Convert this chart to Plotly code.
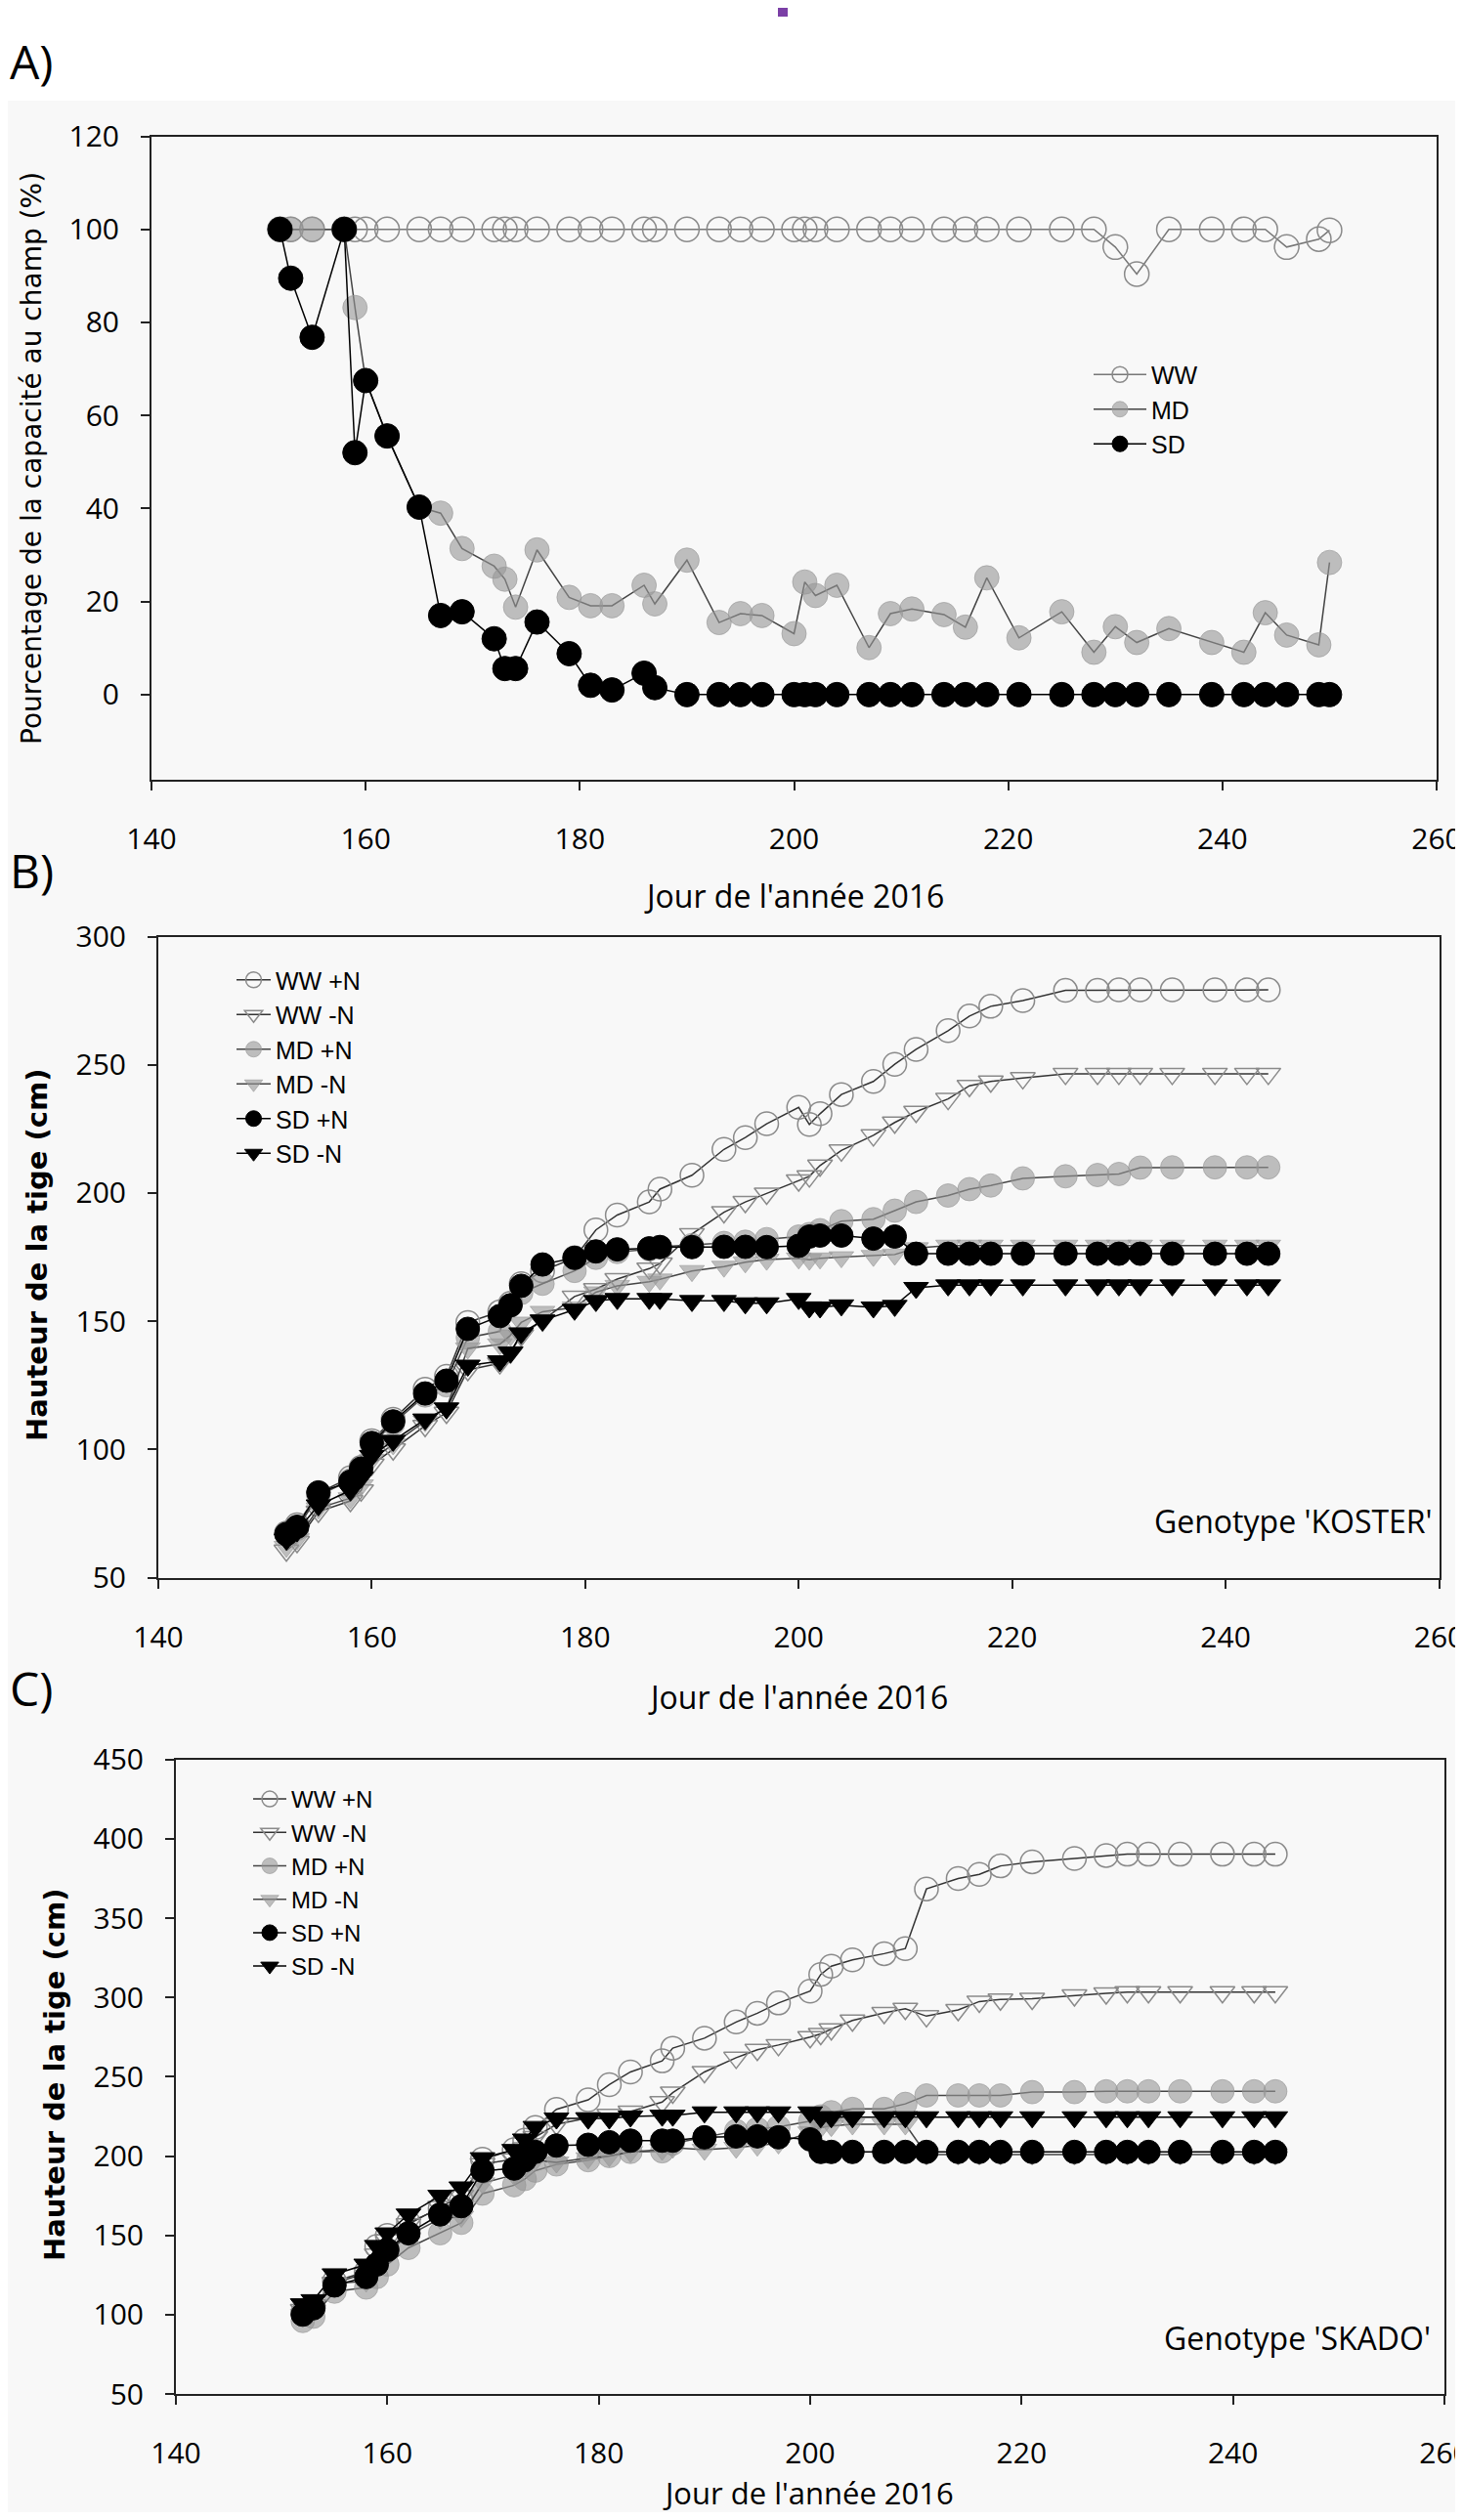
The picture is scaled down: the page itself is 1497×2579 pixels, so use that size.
import plotly.graph_objects as go

# ---------------- data ----------------
days_A = [152, 153, 155, 158, 159, 160, 162, 165, 167, 169, 172, 173, 174, 176, 179, 181, 183, 186, 187,
          190, 193, 195, 197, 200, 201, 202, 204, 207, 209, 211, 214, 216, 218, 221, 225, 228, 230, 232,
          235, 239, 242, 244, 246, 249, 250]

ww_A = [100, 100, 100, 100, 100, 100, 100, 100, 100, 100, 100, 100, 100, 100, 100, 100, 100, 100, 100,
        100, 100, 100, 100, 100, 100, 100, 100, 100, 100, 100, 100, 100, 100, 100, 100, 100, 96.2, 90.4,
        100, 100, 100, 100, 96.2, 97.9, 99.8]
md_A = [100, 100, 100, 100, 83.2, 67.5, 55.6, 40.3, 39.0, 31.4, 27.6, 24.8, 18.8, 31.1, 20.9, 19.1, 19.1,
        23.5, 19.5, 28.9, 15.5, 17.4, 17.0, 13.1, 24.2, 21.3, 23.5, 10.1, 17.4, 18.4, 17.2, 14.5, 25.1,
        12.2, 17.8, 9.1, 14.6, 11.2, 14.2, 11.2, 9.1, 17.6, 12.8, 10.7, 28.4]
sd_A = [100, 89.5, 76.8, 100, 52.0, 67.5, 55.6, 40.3, 17.0, 17.8, 12.0, 5.6, 5.6, 15.6, 8.8, 2.0, 1.0,
        4.6, 1.5, 0, 0, 0, 0, 0, 0, 0, 0, 0, 0, 0, 0, 0, 0, 0, 0, 0, 0, 0, 0, 0, 0, 0, 0, 0, 0]

days_BC = [152, 153, 155, 158, 159, 160, 162, 165, 167, 169, 172, 173, 174, 176, 179, 181, 183, 186, 187,
           190, 193, 195, 197, 200, 201, 202, 204, 207, 209, 211, 214, 216, 218, 221, 225, 228, 230, 232,
           235, 239, 242, 244]

# Panel B - KOSTER
wwp_B = [67.3, 70.6, 83, 89, 93, 103.4, 111.7, 123.5, 128.5, 149.5, 153.7, 157, 164.6, 169.6, 174.7, 185.6,
         191.4, 196.5, 201.5, 206.9, 217, 221.6, 227, 233.4, 226.7, 230.9, 238.4, 243.5, 250.2, 256, 263.3,
         269, 272.8, 275, 279, 279, 279.2, 279.2, 279.2, 279.2, 279.2, 279.2]
wwm_B = [60.6, 63.9, 75.7, 79.9, 84, 94.1, 100, 109.2, 114.3, 131, 133.6, 137.8, 144.5, 150.3, 159.6, 162.5,
         166.4, 170.5, 172.5, 184, 192.5, 196.5, 199.8, 204.9, 206.5, 210.7, 216.6, 222.5, 227.5, 231.7,
         236.7, 241.8, 243.5, 244.8, 246.5, 246.5, 246.5, 246.5, 246.5, 246.5, 246.5, 246.5]
mdp_B = [67, 69, 82, 88, 92, 102, 110, 121, 125, 143.6, 146, 156, 161, 164.6, 169.6, 174.7, 177, 178, 179,
         179.7, 180.5, 181, 182, 183, 184, 185.5, 189, 189.8, 193.1, 196.5, 199, 201.5, 202.9, 205.7, 206.5,
         207, 207.4, 209.9, 210, 210, 210, 210]
mdm_B = [62, 65, 77, 81, 86, 96, 102, 111, 116, 139.4, 141, 144.5, 149.5, 153.7, 155.4, 161.3, 163.8, 165.4,
         166.3, 169.6, 171.3, 173, 174, 174.5, 174, 174.5, 175, 175.5, 176, 178.5, 179.5, 179.5, 179.5,
         179.5, 179.5, 179.5, 179.5, 179.5, 179.5, 179.5, 179.5, 179.5]
sdp_B = [67, 69.8, 83.2, 87.4, 92.5, 102.5, 110.9, 121.8, 126.8, 147, 152, 156.2, 163.8, 172.1, 174.7, 177.2,
         178, 178.4, 178.9, 178.9, 179, 179, 178.9, 179.4, 183, 183.4, 183.4, 182.2, 183, 176.3, 176.3,
         176.3, 176.3, 176.3, 176.3, 176.3, 176.3, 176.3, 176.3, 176.3, 176.3, 176.3]
sdm_B = [64.8, 68.1, 78.2, 84, 89, 97.5, 103.4, 111.7, 116, 132.7, 134.4, 137.8, 145.3, 150.3, 154.5, 157.9,
         158.7, 158.7, 158.7, 157.9, 157.9, 157, 157, 158.7, 155.4, 155.4, 156.2, 155.4, 156, 163, 164, 164,
         164, 164, 164, 164, 164, 164, 164, 164, 164, 164]

# Panel C - SKADO
wwp_C = [101, 105, 121, 127, 143, 150, 158, 167, 172, 198, 204, 210, 218, 229.4, 235.4, 245, 253, 260, 268,
         274.3, 284.5, 290, 296.5, 304, 314.5, 319.7, 323.7, 327.6, 330.8, 368.4, 375, 377.6, 382.9, 385.5,
         387.6, 389.5, 390.3, 390.3, 390.3, 390.3, 390.3, 390.3]
wwm_C = [103, 106, 120, 126, 138, 147, 157, 168, 175, 195, 198, 205, 212, 220, 224, 226, 228, 234, 240, 253,
         262, 267, 270, 275, 277, 280, 285.5, 290.3, 292.9, 288.2, 292.1, 297.4, 298.7, 299.2, 301.3, 302.6,
         303.4, 303.4, 303.4, 303.4, 303.4, 303.4]
mdp_C = [96, 98.7, 114.5, 117.1, 123.7, 131.6, 142.1, 151.3, 157.9, 176.3, 181.6, 185.5, 190.8, 194.7, 197.4,
         200, 202.6, 203, 207.9, 211.8, 215.8, 217.1, 218.4, 222, 225, 227.6, 229.7, 229.7, 232.9, 238.2,
         238.2, 238.2, 238.2, 240.3, 240.3, 240.8, 240.8, 240.8, 240.8, 240.8, 240.8, 240.8]
mdm_C = [100, 102.6, 119.7, 121, 131.6, 139.5, 150, 160.5, 161.8, 182.9, 188.2, 193.4, 197.4, 196, 198.7, 200,
         202.6, 204, 205.3, 204, 205.3, 206.6, 208, 215, 218, 219, 220, 220, 220, 201, 201, 201, 201, 201,
         201, 201, 201, 201, 201, 201, 201, 201]
sdp_C = [100, 104, 118.4, 123.7, 131.6, 140.8, 151.3, 163.2, 168.4, 190.8, 192.1, 197.4, 202.6, 206.6, 207.1,
         208.7, 209.7, 209.7, 209.7, 211.8, 212.4, 212.4, 211.8, 210.5, 202.6, 202.6, 202.6, 202.6, 202.6,
         202.6, 202.6, 202.6, 202.6, 202.6, 202.6, 202.6, 202.6, 202.6, 202.6, 202.6, 202.6, 202.6]
sdm_C = [106.6, 109.2, 125.5, 131.6, 143.4, 151.3, 163.2, 175, 180.3, 198.7, 203.9, 210.5, 218.4, 223.7, 223.7,
         223.7, 225, 225.5, 225.5, 227.6, 227.6, 227.6, 227.6, 227.6, 224.5, 224.5, 224.5, 224.5, 224.5,
         224.5, 224.5, 224.5, 224.5, 224.5, 224.5, 224.5, 224.5, 224.5, 224.5, 224.5, 224.5, 224.5]

names_A = ["WW", "MD", "SD"]
names_BC = ["WW +N", "WW -N", "MD +N", "MD -N", "SD +N", "SD -N"]
x_ticks = [140, 160, 180, 200, 220, 240, 260]
yA_ticks = [0, 20, 40, 60, 80, 100, 120]
yB_ticks = [50, 100, 150, 200, 250, 300]
yC_ticks = [50, 100, 150, 200, 250, 300, 350, 400, 450]

x_title = "Jour de l'année 2016"
yA_title = "Pourcentage de la capacité au champ (%)"
yBC_title = "<b>Hauteur de la tige (cm)</b>"

# ---------------- geometry helpers (page pixels -> paper; page body has an 8px margin) ----------------
W, H = 1481, 2563
OFF = 8


def px(X):
    return (X - OFF) / W


def py(Y):
    return 1 - (Y - OFF) / H


GREY_FILL = "rgba(150,150,150,0.6)"
OPEN_C = "#8a8a8a"

fig = go.Figure()


def add(x, y, name, symbol, color, lcolor, size, xa, ya, leg, mlw=1.5):
    fig.add_trace(go.Scatter(
        x=x, y=y, name=name, mode="lines+markers",
        line=dict(color=lcolor, width=1.5),
        marker=dict(symbol=symbol, size=size, color=color, line=dict(width=mlw, color=color)),
        xaxis=xa, yaxis=ya, legend=leg, cliponaxis=False))


# Panel A
add(days_A, ww_A, names_A[0], "circle-open", OPEN_C, "#777777", 25, "x", "y", "legend")
add(days_A, md_A, names_A[1], "circle", GREY_FILL, "#444444", 25, "x", "y", "legend", 1)
add(days_A, sd_A, names_A[2], "circle", "black", "black", 25, "x", "y", "legend", 1)

# Panel B and C
for xa, ya, leg, series in [
    ("x2", "y2", "legend2", [wwp_B, wwm_B, mdp_B, mdm_B, sdp_B, sdm_B]),
    ("x3", "y3", "legend3", [wwp_C, wwm_C, mdp_C, mdm_C, sdp_C, sdm_C]),
]:
    add(days_BC, series[0], names_BC[0], "circle-open", OPEN_C, "#333333", 24, xa, ya, leg)
    add(days_BC, series[1], names_BC[1], "triangle-down-open", OPEN_C, "#333333", 22, xa, ya, leg)
    add(days_BC, series[2], names_BC[2], "circle", GREY_FILL, "#444444", 24, xa, ya, leg, 1)
    add(days_BC, series[3], names_BC[3], "triangle-down", GREY_FILL, "#444444", 22, xa, ya, leg, 1)
    add(days_BC, series[4], names_BC[4], "circle", "black", "black", 24, xa, ya, leg, 1)
    add(days_BC, series[5], names_BC[5], "triangle-down", "black", "black", 22, xa, ya, leg, 1)

axis_common = dict(showline=True, linecolor="#222222", linewidth=2, mirror=True, ticks="outside",
                   ticklen=9, tickwidth=2, tickcolor="#222222", showgrid=False, zeroline=False,
                   ticklabeloverflow="allow", automargin=False,
                   tickfont=dict(family="Open Sans", size=30, color="black"))

fig.update_layout(
    xaxis=dict(axis_common, range=[140, 260], tickvals=x_ticks, domain=[px(155), px(1470)], anchor="y",
               ticklabelstandoff=24),
    yaxis=dict(axis_common, range=[-18.3, 120], tickvals=yA_ticks, domain=[py(798), py(139.5)], anchor="x",
               ticklabelstandoff=16),
    xaxis2=dict(axis_common, range=[140, 260], tickvals=x_ticks, domain=[px(162), px(1472.5)], anchor="y2",
                ticklabelstandoff=24),
    yaxis2=dict(axis_common, range=[50, 300], tickvals=yB_ticks, domain=[py(1614.5), py(958.5)], anchor="x2",
                ticklabelstandoff=16),
    xaxis3=dict(axis_common, range=[140, 260], tickvals=x_ticks, domain=[px(180), px(1478)], anchor="y3",
                ticklabelstandoff=24),
    yaxis3=dict(axis_common, range=[50, 450], tickvals=yC_ticks, domain=[py(2450), py(1800.7)], anchor="x3",
                ticklabelstandoff=16),
)

leg_font = dict(family="Liberation Sans, Arial", size=25, color="black")
fig.update_layout(
    width=W, height=H, margin=dict(l=0, r=0, t=0, b=0, autoexpand=False),
    paper_bgcolor="white", plot_bgcolor="rgba(0,0,0,0)",
    font=dict(family="Open Sans", color="black"),
    showlegend=True,
    legend=dict(x=px(1114), y=py(360.5), xanchor="left", yanchor="top", bgcolor="rgba(0,0,0,0)",
                borderwidth=0, font=leg_font, itemwidth=54, itemclick=False),
    legend2=dict(x=px(237), y=py(980), xanchor="left", yanchor="top", bgcolor="rgba(0,0,0,0)",
                 borderwidth=0, font=leg_font, itemwidth=35, itemclick=False),
    legend3=dict(x=px(254), y=py(1819), xanchor="left", yanchor="top", bgcolor="rgba(0,0,0,0)",
                 borderwidth=0, font=dict(leg_font, size=24), itemwidth=34, itemclick=False),
)

shapes = [
    dict(type="rect", xref="paper", yref="paper", x0=0, x1=1, y0=0, y1=py(103),
         fillcolor="#f8f8f8", line=dict(width=0), layer="below"),
    dict(type="rect", xref="paper", yref="paper", x0=px(796), x1=px(806), y0=py(17), y1=1,
         fillcolor="#7b3fa6", line=dict(width=0), layer="above"),
]
fig.update_layout(shapes=shapes)


def ann(text, X, Y, size, family="Open Sans", xanchor="center", yanchor="middle", angle=0):
    return dict(text=text, x=px(X), y=py(Y), xref="paper", yref="paper", showarrow=False,
                xanchor=xanchor, yanchor=yanchor, textangle=angle,
                font=dict(family=family, size=size, color="black"))


annotations = [
    ann("A)", 8, 62, 48, xanchor="left"),
    ann("B)", 8, 891, 48, xanchor="left"),
    ann("C)", 8, 1727, 48, xanchor="left"),
    ann(x_title, 812, 916, 32),
    ann(x_title, 816, 1736, 32),
    ann(x_title, 827, 2551, 31),
    ann(yA_title, 32, 469, 28, family="DejaVu Sans", angle=-90),
    ann(yBC_title, 38, 1285, 29, family="DejaVu Sans", angle=-90),
    ann(yBC_title, 56, 2124, 29, family="DejaVu Sans", angle=-90),
    ann("Genotype 'KOSTER'", 1468, 1556, 32, xanchor="right"),
    ann("Genotype 'SKADO'", 1466, 2392, 32, xanchor="right"),
]
fig.update_layout(annotations=annotations)

fig.write_html("out.html")
